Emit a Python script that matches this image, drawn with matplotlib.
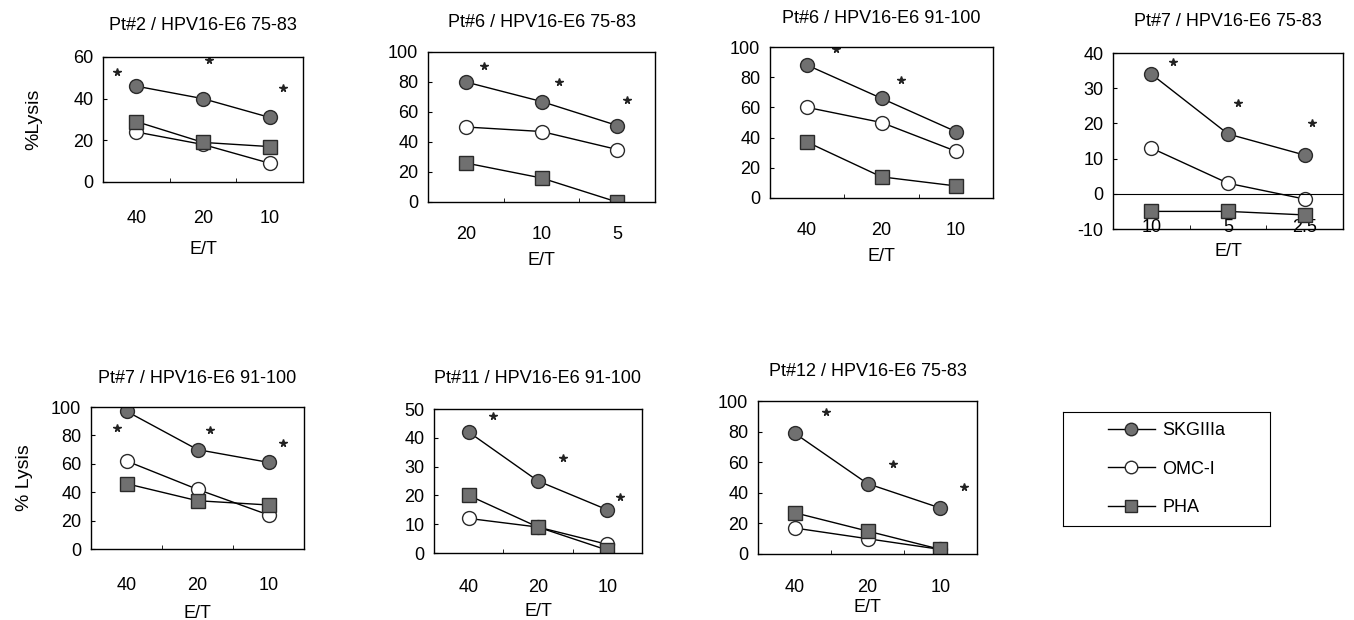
import numpy as np
import matplotlib.pyplot as plt
from matplotlib.lines import Line2D

plt.rcParams['font.family'] = ['Liberation Sans', 'DejaVu Sans']
plt.rcParams['axes.unicode_minus'] = False

W, H = 1354, 620

titles = ["Pt#2 / HPV16-E6 75-83", "Pt#6 / HPV16-E6 75-83", "Pt#6 / HPV16-E6 91-100",
          "Pt#7 / HPV16-E6 75-83", "Pt#7 / HPV16-E6 91-100", "Pt#11 / HPV16-E6 91-100",
          "Pt#12 / HPV16-E6 75-83"]
et_ticks = [["40", "20", "10"], ["20", "10", "5"], ["40", "20", "10"], ["10", "5", "2.5"],
            ["40", "20", "10"], ["40", "20", "10"], ["40", "20", "10"]]

skg = [[46, 40, 31], [80, 67, 51], [88, 66, 44], [34, 17, 11],
       [97, 70, 61], [42, 25, 15], [79, 46, 30]]
omc = [[24, 18, 9], [50, 47, 35], [60, 50, 31], [13, 3, -1.5],
       [62, 42, 24], [12, 9, 3], [17, 10, 3]]
pha = [[29, 19, 17], [26, 16, 0], [37, 14, 8], [-5, -5, -6],
       [46, 34, 31], [20, 9, 1], [27, 15, 3]]

# significance stars (x in category units)
star_x = [[-0.29, 1.09, 2.2], [0.24, 1.23, 2.13], [0.39, 1.26], [0.28, 1.13, 2.1],
          [-0.13, 1.18, 2.2], [0.35, 1.36, 2.18], [0.43, 1.35, 2.32]]
star_y = [[52.8, 58.5, 45], [90.7, 80, 68], [99, 78], [37.4, 25.8, 20.1],
          [85, 84, 75], [47.6, 33, 19.4], [92.8, 59, 44]]

y_limits = [(0, 60), (0, 100), (0, 100), (-10, 40), (0, 100), (0, 50), (0, 100)]
y_steps = [20, 20, 20, 10, 20, 10, 20]
y_labels = ["%Lysis", "", "", "", "% Lysis", "", ""]

# panel boxes in pixels: left, top, right, bottom
boxes = [(103, 57, 303, 182), (428, 52, 655, 202), (770, 47, 993, 198), (1113, 53, 1343, 229),
         (91, 407, 304, 549), (434, 409, 642, 553), (758, 401, 977, 554)]
tick_pads = [20, 17, 17, -7, 20, 19, 18]
x_label_pads = [10, 7, 7, 5, 8, 5, 2]
y_label_pads = [22, 0, 0, 0, 13, 0, 0]
title_pads = [19.5, 18, 17.5, 19.5, 17, 18.5, 18]

gray = '#707070'
edge = '#2a2a2a'

fig = plt.figure(figsize=(W / 100, H / 100), dpi=100)

for i in range(7):
    l, t, r, b = boxes[i]
    ax = fig.add_axes([l / W, 1 - b / H, (r - l) / W, (b - t) / H])
    x = np.arange(3)
    ax.plot(x, skg[i], '-o', color='black', lw=1, ms=10, mfc=gray, mec=edge, mew=1)
    ax.plot(x, omc[i], '-o', color='black', lw=1, ms=10, mfc='white', mec=edge, mew=1)
    ax.plot(x, pha[i], '-s', color='black', lw=1, ms=9.5, mfc=gray, mec=edge, mew=1)
    ax.plot(star_x[i], star_y[i], '*', color='#222222', ms=5.5, ls='none')
    lo, hi = y_limits[i]
    ax.set_ylim(lo, hi)
    ax.set_xlim(-0.5, 2.5)
    ax.set_yticks(np.arange(lo, hi + 1, y_steps[i]))
    ax.set_xticks(x, et_ticks[i])
    ax.set_xticks([0.5, 1.5], minor=True)
    ax.tick_params(axis='x', which='major', length=0, pad=tick_pads[i], labelsize=13)
    ax.tick_params(axis='x', which='minor', direction='in', length=3)
    ax.tick_params(axis='y', direction='in', length=3, pad=7, labelsize=13)
    if lo < 0:
        ax.axhline(0, color='black', lw=0.8)
    for s in ax.spines.values():
        s.set_linewidth(1)
    ax.set_title(titles[i], fontsize=13, pad=title_pads[i])
    ax.set_xlabel("E/T", fontsize=13, labelpad=x_label_pads[i])
    if y_labels[i]:
        ax.set_ylabel(y_labels[i], fontsize=14, labelpad=y_label_pads[i])

# legend box
l, t, r, b = 1063, 412, 1270, 526
lax = fig.add_axes([l / W, 1 - b / H, (r - l) / W, (b - t) / H])
lax.set_xticks([])
lax.set_yticks([])
handles = [
    Line2D([], [], color='black', lw=1, marker='o', ms=9, mfc=gray, mec=edge),
    Line2D([], [], color='black', lw=1, marker='o', ms=9, mfc='white', mec=edge),
    Line2D([], [], color='black', lw=1, marker='s', ms=8.5, mfc=gray, mec=edge),
]
lax.legend(handles, ["SKGIIIa", "OMC-I", "PHA"], loc='center', frameon=False,
           fontsize=13, handlelength=2.6, labelspacing=1.2, handletextpad=0.4)

fig.savefig('out.png', dpi=100)
